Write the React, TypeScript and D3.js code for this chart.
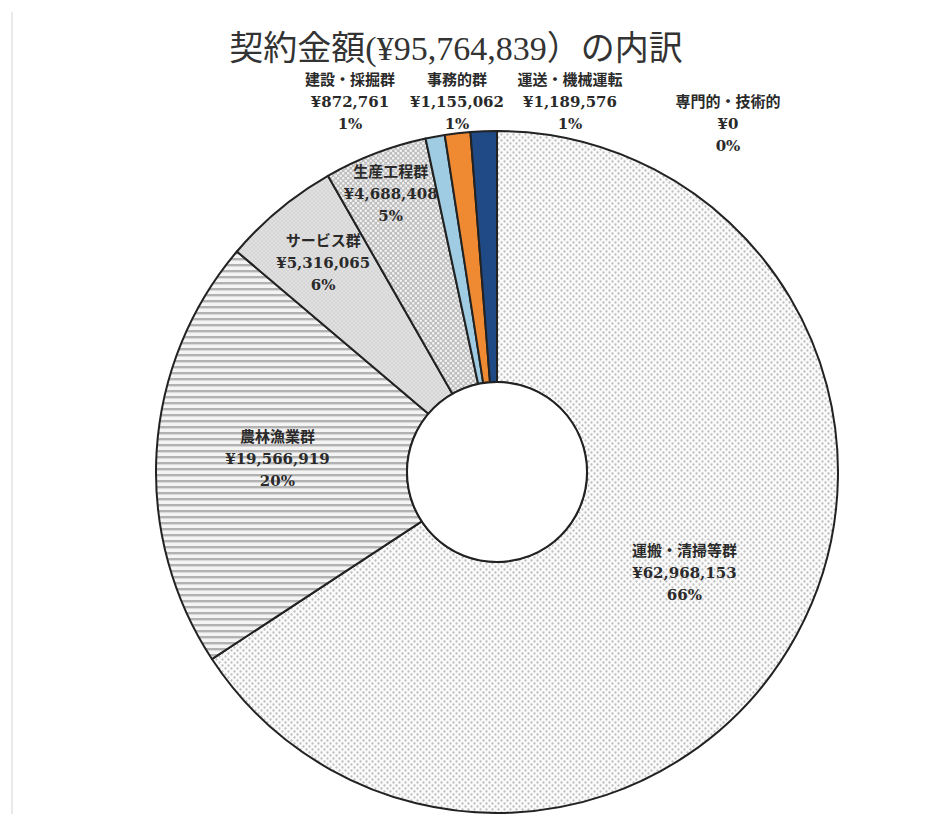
import React from "react";
import * as d3 from "d3";

const categories = ["運搬・清掃等群", "農林漁業群", "サービス群", "生産工程群", "建設・採掘群", "事務的群", "運送・機械運転", "専門的・技術的"];
const amounts = [62968153, 19566919, 5316065, 4688408, 872761, 1155062, 1189576, 0];
const titleText = "契約金額(¥95,764,839）の内訳";

// styling / layout (kept separate from data)
const fills = ["url(#pDots)", "url(#pStripes)", "url(#pFine)", "url(#pLattice)", "#9fcbe3", "#ef8a33", "#1f4a86", "#888"];
const inLabelRadius = [213, 220, 272, 298];
const outLabelPos = [
  { x: 350, y: 80 },
  { x: 457, y: 80 },
  { x: 570, y: 80 },
  { x: 728, y: 102 },
];

const W = 925;
const H = 814;
const cx = 497;
const cy = 472;
const R = 341;
const r0 = 90;

export default function App() {
  const total = d3.sum(amounts);
  const pie = d3.pie<number>().sort(null).value((d) => d).startAngle(0).endAngle(2 * Math.PI);
  const arcs = pie(amounts);
  const arcGen = d3.arc<d3.PieArcDatum<number>>().innerRadius(r0).outerRadius(R);
  const fmt = (v: number) => "¥" + d3.format(",")(v);
  const pct = (v: number) => Math.round((v / total) * 100) + "%";
  const labelFont = "'DejaVu Serif', 'Noto Sans CJK JP', serif";

  return (
    <svg width={W} height={H} style={{ position: "absolute", left: 0, top: 0, background: "#fff" }}>
      <defs>
        <pattern id="pDots" patternUnits="userSpaceOnUse" width="6" height="6">
          <rect width="6" height="6" fill="#fbfbfb" />
          <circle cx="1.5" cy="1.5" r="1.15" fill="#bdbdbd" />
          <circle cx="4.5" cy="4.5" r="1.15" fill="#bdbdbd" />
        </pattern>
        <pattern id="pStripes" patternUnits="userSpaceOnUse" width="6" height="6">
          <rect width="6" height="6" fill="#f4f4f4" />
          <rect y="2" width="6" height="2.4" fill="#b2b2b2" />
        </pattern>
        <pattern id="pFine" patternUnits="userSpaceOnUse" width="4" height="4">
          <rect width="4" height="4" fill="#e0e0e0" />
          <circle cx="1" cy="1" r="0.7" fill="#c6c6c6" />
          <circle cx="3" cy="3" r="0.7" fill="#c6c6c6" />
        </pattern>
        <pattern id="pLattice" patternUnits="userSpaceOnUse" width="5" height="5">
          <rect width="5" height="5" fill="#bdbdbd" />
          <circle cx="1.25" cy="1.25" r="1.3" fill="#f2f2f2" />
          <circle cx="3.75" cy="3.75" r="1.3" fill="#f2f2f2" />
        </pattern>
      </defs>

      <line x1={12} y1={12} x2={12} y2={H} stroke="#e2e2e2" strokeWidth={1.5} />

      <text x={456} y={60} textAnchor="middle" fontFamily="'Liberation Serif', 'Noto Sans CJK JP', serif" fontSize={34} fill="#333">
        {titleText}
      </text>

      <g transform={`translate(${cx},${cy})`}>
        {arcs.map((a, i) =>
          a.value > 0 ? (
            <path key={i} d={arcGen(a) || ""} fill={fills[i]} stroke="#222" strokeWidth={2} strokeLinejoin="round" />
          ) : null
        )}
        <circle r={r0} fill="#fff" stroke="#222" strokeWidth={2} />
      </g>

      {arcs.map((a, i) => {
        let x: number;
        let y: number;
        if (i < inLabelRadius.length) {
          const rr = inLabelRadius[i];
          const c = d3.arc<d3.PieArcDatum<number>>().innerRadius(rr).outerRadius(rr).centroid(a);
          x = cx + c[0];
          y = cy + c[1] - 22;
        } else {
          const p = outLabelPos[i - inLabelRadius.length];
          x = p.x;
          y = p.y;
        }
        const lines = [categories[i], fmt(amounts[i]), pct(amounts[i])];
        return (
          <g key={"l" + i}>
            {lines.map((t, k) => (
              <text
                key={k}
                x={x}
                y={y + k * 22}
                textAnchor="middle"
                dominantBaseline="central"
                fontFamily={labelFont}
                fontWeight="bold"
                fontSize={15}
                fill="#2a2a2a"
              >
                {t}
              </text>
            ))}
          </g>
        );
      })}
    </svg>
  );
}
